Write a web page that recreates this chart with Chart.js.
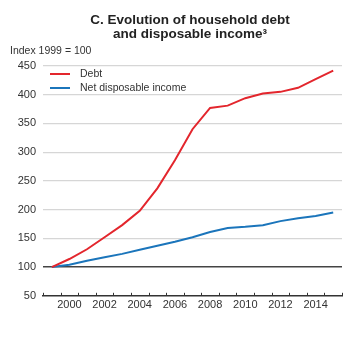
<!DOCTYPE html>
<html>
<head>
<meta charset="utf-8">
<script src="https://cdn.jsdelivr.net/npm/chart.js@4.4.1/dist/chart.umd.min.js"></script>
<style>
    html, body { margin: 0; padding: 0; background: #fff; }
    #wrap { position: relative; width: 356px; height: 344px; font-family: "Liberation Sans", Arial, sans-serif; color: #222; }
    #title { position: absolute; left: 0; width: 380px; top: 13px; text-align: center; font-weight: bold; font-size: 13.5px; line-height: 13.5px; }
    #unit { position: absolute; left: 10px; top: 44px; font-size: 10.5px; color: #333; }
    #debtChart { position: absolute; left: 0; top: 0; }
</style>
</head>
<body>
<div id="wrap">
    <canvas id="debtChart" width="356" height="344"></canvas>
    <div id="title">C. Evolution of household debt<br>and disposable income³</div>
    <div id="unit">Index 1999 = 100</div>
</div>
<script>
const years = ["1999", "2000", "2001", "2002", "2003", "2004", "2005", "2006", "2007",
    "2008", "2009", "2010", "2011", "2012", "2013", "2014", "2015"];
const debt = [100, 114, 131, 152, 173, 198, 237, 286, 340, 377, 381, 394, 402, 405, 412, 427, 442];
const netIncome = [100, 104, 111, 117, 123, 130, 137, 144, 152, 161, 168, 170, 173, 180, 185, 189, 195];
const yTicks = [50, 100, 150, 200, 250, 300, 350, 400, 450];

// legend inside plot, top left
const insideLegend = {
    id: 'insideLegend',
    afterDraw(chart) {
        const ctx = chart.ctx;
        const area = chart.chartArea;
        ctx.save();
        ctx.font = '10.5px "Liberation Sans", Arial, sans-serif';
        ctx.textBaseline = 'middle';
        chart.data.datasets.forEach((ds, i) => {
            const y = area.top + 8 + i * 14;
            ctx.strokeStyle = ds.borderColor;
            ctx.lineWidth = 2;
            ctx.beginPath();
            ctx.moveTo(area.left + 7, y);
            ctx.lineTo(area.left + 27, y);
            ctx.stroke();
            ctx.fillStyle = '#333';
            ctx.fillText(ds.label, area.left + 37, y);
        });
        ctx.restore();
    }
};

// small upward tick marks at year boundaries on the x axis
const yearTicks = {
    id: 'yearTicks',
    afterDraw(chart) {
        const x = chart.scales.x;
        const ctx = chart.ctx;
        const step = x.width / years.length;
        ctx.save();
        ctx.strokeStyle = '#333';
        ctx.lineWidth = 1;
        for (let i = 0; i <= years.length; i++) {
            const px = Math.round(x.left + i * step) + 0.5;
            ctx.beginPath();
            ctx.moveTo(px, x.top);
            ctx.lineTo(px, x.top - 3);
            ctx.stroke();
        }
        ctx.restore();
    }
};

new Chart(document.getElementById('debtChart'), {
    type: 'line',
    data: {
        labels: years,
        datasets: [
            {
                label: 'Debt',
                data: debt,
                borderColor: '#e3262d',
                borderWidth: 2,
                pointRadius: 0,
                tension: 0
            },
            {
                label: 'Net disposable income',
                data: netIncome,
                borderColor: '#1b75bb',
                borderWidth: 2,
                pointRadius: 0,
                tension: 0
            }
        ]
    },
    options: {
        responsive: false,
        animation: false,
        devicePixelRatio: 1,
        layout: { padding: { top: 66, right: 14, left: 0, bottom: 29 } },
        plugins: {
            legend: { display: false },
            title: { display: false },
            tooltip: { enabled: false }
        },
        scales: {
            x: {
                offset: true,
                border: { color: '#333', width: 1.5 },
                grid: { display: true, offset: true, drawOnChartArea: false, drawTicks: false },
                ticks: {
                    autoSkip: false,
                    maxRotation: 0,
                    padding: 3,
                    color: '#333',
                    font: { family: '"Liberation Sans", Arial, sans-serif', size: 11 },
                    callback: (v, i) => (Number(years[i]) % 2 === 0 ? years[i] : '')
                }
            },
            y: {
                min: 50,
                max: 450,
                afterFit: (s) => { s.width = 43; },
                afterBuildTicks: (s) => { s.ticks = yTicks.map(v => ({ value: v })); },
                border: { display: false },
                grid: {
                    drawTicks: false,
                    lineWidth: (c) => (c.tick && c.tick.value === 100 ? 1.5 : 1.2),
                    color: (c) => {
                        if (!c.tick) return '#d6d6d6';
                        if (c.tick.value === 100) return '#444';
                        if (c.tick.value === 50) return 'rgba(0,0,0,0)';
                        return '#d6d6d6';
                    }
                },
                ticks: {
                    padding: 7,
                    color: '#333',
                    font: { family: '"Liberation Sans", Arial, sans-serif', size: 11 }
                }
            }
        }
    },
    plugins: [insideLegend, yearTicks]
});
</script>
</body>
</html>
